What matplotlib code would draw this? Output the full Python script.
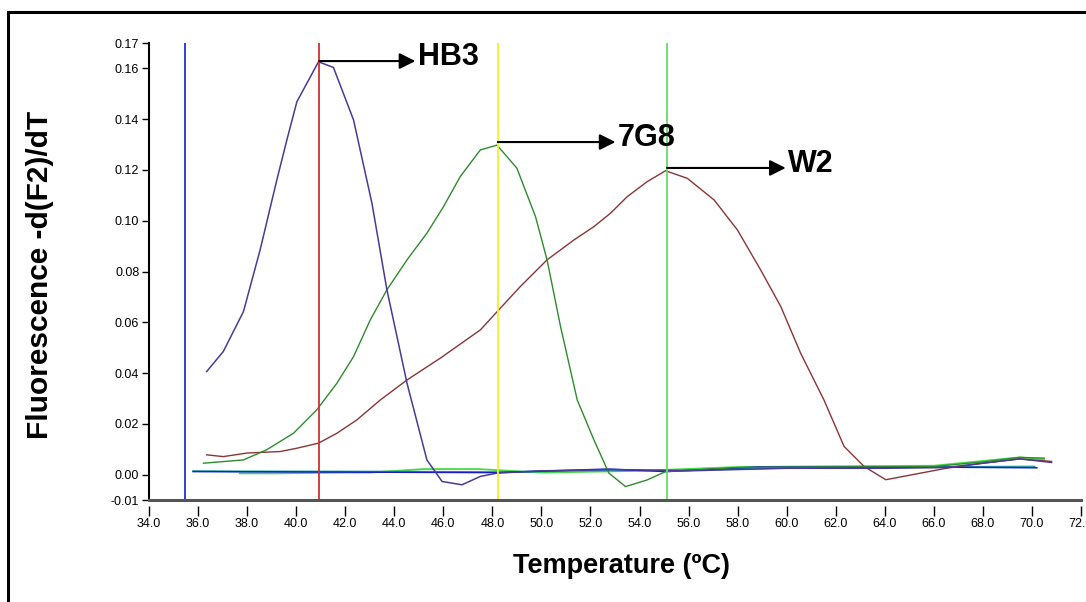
import numpy as np
import matplotlib.pyplot as plt
from matplotlib.patches import Rectangle

plt.rcParams['font.family'] = ['Liberation Sans', 'DejaVu Sans']

# melt-curve derivative traces, temperature in deg C
hb3_temp = [36.35, 37.03, 37.85, 38.53, 39.21, 39.62, 40.03, 40.91, 41.52, 42.34,
            43.09, 43.70, 44.52, 45.33, 45.95, 46.76, 47.51, 48.19, 50.0, 53.0,
            56.0, 60.0, 64.0, 66.5, 68.0, 69.5, 70.8]
hb3_fluor = [0.0406, 0.0485, 0.0642, 0.0885, 0.1160, 0.1318, 0.1469, 0.1626, 0.1604, 0.1397,
             0.1069, 0.0728, 0.0360, 0.0058, -0.0027, -0.0040, -0.0007, 0.0006, 0.0015, 0.0020,
             0.0015, 0.0025, 0.0025, 0.0028, 0.0045, 0.0062, 0.0048]

g78_temp = [36.22, 37.85, 38.80, 39.89, 40.84, 41.66, 42.34, 43.02, 43.70, 44.52,
            45.33, 46.01, 46.69, 47.51, 48.19, 49.00, 49.76, 50.23, 50.78, 51.46,
            52.14, 52.75, 53.43, 54.31, 55.06, 58.0, 62.0, 66.0, 68.0, 69.5, 70.5]
g78_fluor = [0.0045, 0.0058, 0.0098, 0.0163, 0.0255, 0.0360, 0.0465, 0.0609, 0.0728, 0.0846,
             0.0951, 0.1056, 0.1174, 0.1279, 0.1298, 0.1207, 0.1016, 0.0846, 0.0583, 0.0294,
             0.0137, 0.0006, -0.0047, -0.0021, 0.0012, 0.0028, 0.0030, 0.0032, 0.0050, 0.0068, 0.0065]

w2_temp = [36.35, 37.03, 37.99, 39.35, 40.03, 40.91, 41.66, 42.48, 43.43, 44.52,
           45.88, 47.51, 48.26, 49.14, 50.23, 51.32, 52.14, 52.82, 53.50, 54.31,
           55.06, 55.95, 57.04, 57.99, 58.94, 59.76, 60.57, 61.52, 62.34, 63.16,
           64.04, 65.3, 66.5, 68.0, 69.5, 70.8]
w2_fluor = [0.0078, 0.0071, 0.0085, 0.0091, 0.0104, 0.0124, 0.0163, 0.0216, 0.0294, 0.0373,
            0.0459, 0.0570, 0.0649, 0.0741, 0.0846, 0.0924, 0.0977, 0.1030, 0.1095, 0.1154,
            0.1197, 0.1167, 0.1082, 0.0964, 0.0806, 0.0662, 0.0478, 0.0294, 0.0111, 0.0032,
            -0.0020, 0.0003, 0.0025, 0.0045, 0.0062, 0.0052]

# no-template / control wells sitting on the baseline
ctrl_a_temp = [35.8, 48.2, 52.7, 55.1, 58.8, 63.0, 67.0, 70.2]
ctrl_a_fluor = [0.0012, 0.0008, 0.0022, 0.0012, 0.0030, 0.0029, 0.0029, 0.0027]
ctrl_b_temp = [35.8, 37.7, 44.0, 48.2, 52.0, 56.0, 60.0, 64.0, 70.1]
ctrl_b_fluor = [0.0014, 0.0013, 0.0012, 0.0010, 0.0016, 0.0018, 0.0027, 0.0029, 0.0032]
ctrl_c_temp = [37.7, 39.2, 42.0, 43.0, 45.2, 47.4, 50.0, 54.0, 58.0, 62.0, 66.0, 69.5, 70.5]
ctrl_c_fluor = [0.0005, 0.0005, 0.0008, 0.0008, 0.0022, 0.0022, 0.0008, 0.0015, 0.0030,
                0.0033, 0.0035, 0.0068, 0.0060]

# Tm markers and peak labels
marker_temps = [35.45, 40.94, 48.22, 55.12]
marker_colors = ['#2233cc', '#cc3333', '#f2f22a', '#66dd66']
peak_names = ['HB3', '7G8', 'W2']
peak_temps = [40.94, 48.22, 55.12]
peak_heights = [0.1629, 0.1310, 0.1208]
arrow_ends = [44.86, 53.02, 59.96]

x_ticks = np.arange(34.0, 72.1, 2.0)
y_ticks = [-0.01, 0.00, 0.02, 0.04, 0.06, 0.08, 0.10, 0.12, 0.14, 0.16, 0.17]

fig = plt.figure(figsize=(10.86, 6.02), dpi=100)
ax = fig.add_axes([0.1372, 0.1694, 0.8582, 0.7591])

ax.plot(ctrl_c_temp, ctrl_c_fluor, color='#44dd44', lw=1.3)
ax.plot(ctrl_b_temp, ctrl_b_fluor, color='#22aaaa', lw=1.3)
ax.plot(ctrl_a_temp, ctrl_a_fluor, color='#1a1acc', lw=1.1)

ax.plot(w2_temp, w2_fluor, color='#8b3535', lw=1.0)
ax.plot(g78_temp, g78_fluor, color='#2e8b2e', lw=1.0)
ax.plot(hb3_temp, hb3_fluor, color='#4a3a96', lw=1.1)

ax.vlines(marker_temps, -0.01, 0.17, colors=marker_colors, lw=1.3, zorder=4)

for name, t0, h, t1 in zip(peak_names, peak_temps, peak_heights, arrow_ends):
    ax.annotate('', xy=(t1, h), xytext=(t0, h),
                arrowprops=dict(arrowstyle='-|>', color='black', lw=1.5,
                                mutation_scale=24, shrinkA=0, shrinkB=0),
                zorder=5)
    ax.text(t1 + 0.1, h - 0.0015, name, fontsize=22, fontweight='bold',
            ha='left', va='baseline', zorder=5)

ax.set_xlim(34.0, 72.0)
ax.set_ylim(-0.01, 0.17)
ax.set_xticks(x_ticks)
ax.set_xticklabels([f'{v:.1f}' for v in x_ticks])
ax.set_yticks(y_ticks)
ax.set_yticklabels([f'{v:.2f}' for v in y_ticks])
ax.tick_params(axis='both', labelsize=9, width=1, direction='out', pad=2)
ax.tick_params(axis='x', length=7)
ax.tick_params(axis='y', length=5)

ax.spines['top'].set_visible(False)
ax.spines['right'].set_visible(False)
ax.spines['left'].set_linewidth(1.5)
# ticks hang below the axis line with a small gap
ax.spines['bottom'].set_position(('outward', 4))
ax.spines['bottom'].set_visible(False)
ax.axhline(-0.01, color='#555555', lw=2.2, clip_on=False, zorder=6)

fig.text(0.037, 0.543, 'Fluorescence -d(F2)/dT', rotation=90, fontsize=21.5,
         fontweight='bold', ha='center', va='center')
fig.text(0.572, 0.06, 'Temperature (ºC)', fontsize=19.5, fontweight='bold',
         ha='center', va='center')

fig.patches.append(Rectangle((0.0074, -0.1), 1.2, 1.08, transform=fig.transFigure,
                             fill=False, edgecolor='black', lw=2.2))

fig.savefig('out.png', dpi=100)
